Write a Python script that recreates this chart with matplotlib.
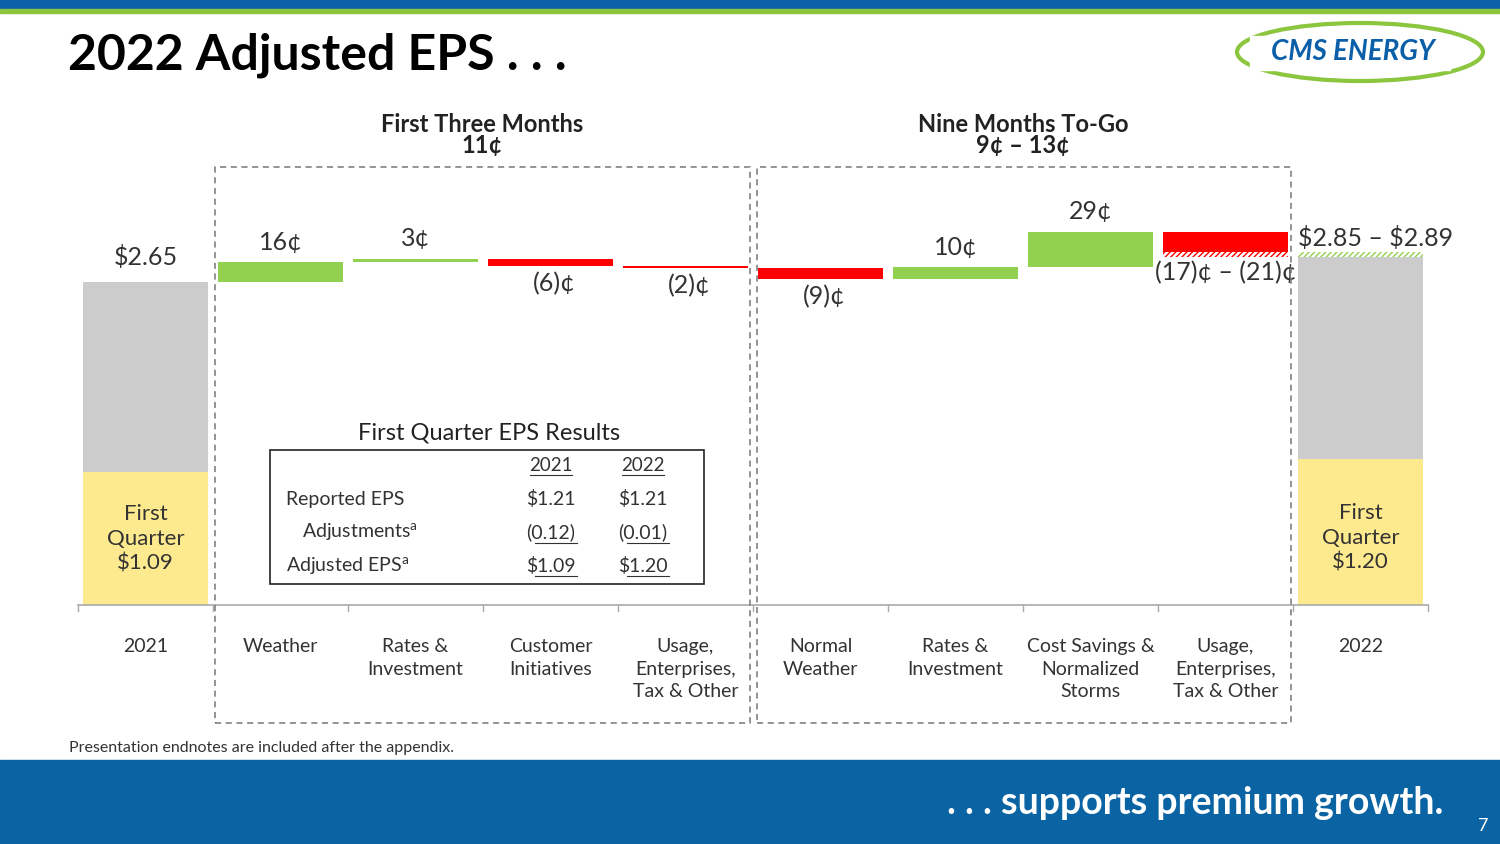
import matplotlib
matplotlib.use("Agg")
import matplotlib.pyplot as plt
from matplotlib.patches import Rectangle, Ellipse
import numpy as np

plt.rcParams['font.family'] = ['Lato', 'DejaVu Sans']
plt.rcParams['hatch.linewidth'] = 1.0

categories = ["2021", "Weather", "Rates &\nInvestment", "Customer\nInitiatives",
              "Usage,\nEnterprises,\nTax & Other", "Normal\nWeather", "Rates &\nInvestment",
              "Cost Savings &\nNormalized\nStorms", "Usage,\nEnterprises,\nTax & Other", "2022"]
start_eps = 2.65
start_q1 = 1.09
deltas = [0.16, 0.03, -0.06, -0.02, -0.09, 0.10, 0.29]
last_delta_low, last_delta_high = -0.21, -0.17
end_low, end_high = 2.85, 2.89
end_q1 = 1.20
delta_labels = ["16¢", "3¢", "(6)¢", "(2)¢", "(9)¢", "10¢", "29¢"]

W, H = 1500, 844
fig = plt.figure(figsize=(W/100, H/100), dpi=100)
def fx(x): return x / W
def fy(y): return 1 - y / H

fig.patches.append(Rectangle((0, fy(9)), 1, 9/H, transform=fig.transFigure, color="#0a5fa8", zorder=0))
fig.patches.append(Rectangle((0, fy(13)), 1, 4/H, transform=fig.transFigure, color="#8cc63f", zorder=0))
fig.patches.append(Rectangle((0, 0), 1, (H-760)/H, transform=fig.transFigure, color="#0a64a4", zorder=0))
fig.text(fx(68), fy(55), "2022 Adjusted EPS . . .", fontsize=36, fontweight="bold", va="center", color="black")
fig.text(fx(1443), fy(803), ". . . supports premium growth.", fontsize=27, fontweight="bold", color="white", ha="right", va="center")
fig.text(fx(1483), fy(826), "7", fontsize=13, color="white", ha="center", va="center")
fig.text(fx(69), fy(748), "Presentation endnotes are included after the appendix.", fontsize=11.5, color="#333333", va="center")
fig.patches.append(Ellipse((fx(1360), fy(52)), 246/W, 58/H, transform=fig.transFigure, fill=False, ec="#8cc63f", lw=3))
fig.patches.append(Rectangle((fx(1250), fy(70)), 200/W, 34/H, transform=fig.transFigure, color="white", zorder=1))
fig.text(fx(1353), fy(52), "CMS ENERGY", fontsize=20, fontweight="bold", fontstyle="italic", color="#0a5fa8", ha="center", va="center", zorder=3)

x0, x1, ybase, ytop = 78, 1428, 605, 105
ax = fig.add_axes([fx(x0), fy(ybase), (x1-x0)/W, (ybase-ytop)/H])
ax.set_xlim(-0.5, 9.5)
ax.set_ylim(0, (ybase-ytop)/122)
ax.axis("off")
bw = 0.92
GREEN, RED, GRAY, YEL = "#92d050", "#ff0000", "#cccccc", "#fde98e"

ax.bar(0, start_q1, bw, color=YEL)
ax.bar(0, start_eps-start_q1, bw, bottom=start_q1, color=GRAY)
ax.text(0, start_eps+0.1, "\\$2.65", ha="center", va="bottom", fontsize=18, color="#333333")
ax.text(0, start_q1/2, "First\nQuarter\n\\$1.09", ha="center", va="center", fontsize=16, color="#333333", linespacing=1.3)

cum = start_eps
for i, (d, lab) in enumerate(zip(deltas, delta_labels)):
    xi = i + 1
    col = GREEN if d > 0 else RED
    h = d if abs(d) > 0.025 else np.sign(d) * 0.02
    ax.bar(xi, h, bw, bottom=cum, color=col)
    if d > 0:
        ax.text(xi, cum+d+0.07, lab, ha="center", va="bottom", fontsize=18, color="#333333")
    else:
        ax.text(xi+0.03, cum+d-0.05, lab, ha="center", va="top", fontsize=18, color="#333333")
    cum += d

ax.bar(8, last_delta_high, bw, bottom=cum, color=RED)
ax.bar(8, last_delta_low-last_delta_high, bw, bottom=cum+last_delta_high, color="white", ec=RED, hatch="//////", lw=0)
ax.text(8, cum+last_delta_low-0.03, "(17)¢ – (21)¢", ha="center", va="top", fontsize=18, color="#333333")

ax.bar(9, end_q1, bw, color=YEL)
ax.bar(9, end_low-end_q1, bw, bottom=end_q1, color=GRAY)
ax.bar(9, end_high-end_low, bw, bottom=end_low, color="white", ec=GREEN, hatch="//////", lw=0)
ax.text(8.54, end_high+0.02, "\\$2.85 – \\$2.89", ha="left", va="bottom", fontsize=18, color="#333333")
ax.text(9, end_q1/2-0.05, "First\nQuarter\n\\$1.20", ha="center", va="center", fontsize=16, color="#333333", linespacing=1.3)

ax.axhline(0, color="#aaaaaa", lw=1.2, clip_on=False)
for b in np.arange(-0.5, 10, 1.0):
    ax.plot([b, b], [0, -0.05], color="#aaaaaa", lw=1, clip_on=False)
for i, c in enumerate(categories):
    ax.text(i, -0.27, c, ha="center", va="top", fontsize=14, color="#333333", linespacing=1.4)

for (l, r) in [(215, 750), (757, 1291)]:
    fig.patches.append(Rectangle((fx(l), fy(723)), (r-l)/W, (723-167)/H, transform=fig.transFigure,
                                 fill=False, ec="#777777", ls=(0, (4, 3)), lw=1.1, zorder=5))
fig.text(fx(482), fy(124), "First Three Months", fontsize=17, fontweight="bold", ha="center", va="center", color="#222222")
fig.text(fx(482), fy(146), "11¢", fontsize=17, fontweight="bold", ha="center", va="center", color="#222222")
fig.text(fx(1023), fy(124), "Nine Months To-Go", fontsize=17, fontweight="bold", ha="center", va="center", color="#222222")
fig.text(fx(1023), fy(146), "9¢ – 13¢", fontsize=17, fontweight="bold", ha="center", va="center", color="#222222")

fig.text(fx(489), fy(433), "First Quarter EPS Results", fontsize=17, ha="center", va="center", color="#222222")
fig.patches.append(Rectangle((fx(270), fy(584)), 434/W, 134/H, transform=fig.transFigure,
                             fill=False, ec="#222222", lw=1.2, zorder=5))
tc = "#333333"
fig.text(fx(551), fy(465), "2021", fontsize=13.5, ha="center", va="center", color=tc)
fig.text(fx(643), fy(465), "2022", fontsize=13.5, ha="center", va="center", color=tc)
for xc in (551, 643):
    fig.lines.append(plt.Line2D([fx(xc-21), fx(xc+21)], [fy(475)]*2, transform=fig.transFigure, color=tc, lw=0.8))
rows = [("Reported EPS", 286, 499, "\\$1.21", "\\$1.21"),
        ("Adjustments$^{\\mathregular{a}}$", 302, 532, "(0.12)", "(0.01)"),
        ("Adjusted EPS$^{\\mathregular{a}}$", 286, 566, "\\$1.09", "\\$1.20")]
for lab, xl, yy, v1, v2 in rows:
    fig.text(fx(xl), fy(yy), lab, fontsize=14, va="center", color=tc)
    fig.text(fx(551), fy(yy), v1, fontsize=14, ha="center", va="center", color=tc)
    fig.text(fx(643), fy(yy), v2, fontsize=14, ha="center", va="center", color=tc)
for yy in (543, 576):
    for xc in (555, 647):
        fig.lines.append(plt.Line2D([fx(xc-20), fx(xc+22)], [fy(yy)]*2, transform=fig.transFigure, color=tc, lw=0.8))

fig.savefig("out.png", dpi=100)
